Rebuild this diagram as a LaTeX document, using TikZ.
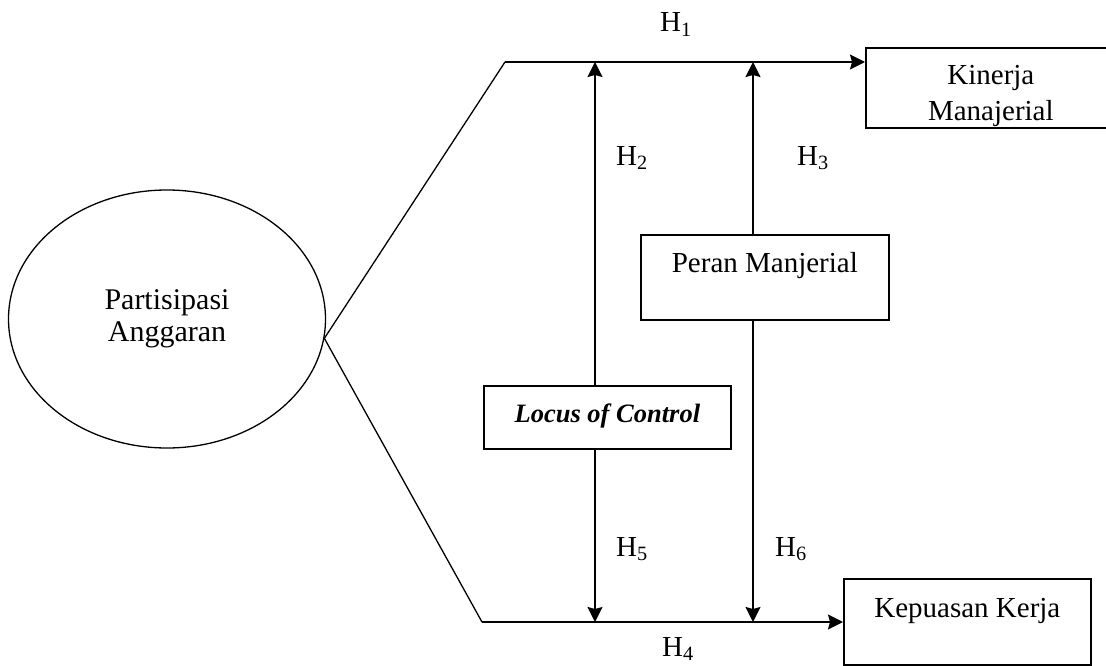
\documentclass[tikz,border=0pt]{standalone}
\usepackage{fontspec}
\setmainfont{Liberation Serif}
\usetikzlibrary{arrows.meta,shapes.geometric}
\begin{document}
\begin{tikzpicture}[x=1pt,y=-1pt,
  box/.style={draw,line width=1.7pt,inner sep=0pt,anchor=north west,align=center,
              font=\fontsize{29}{36}\selectfont},
  link/.style={line width=1.8pt,-{Stealth[length=15pt,width=15pt,inset=2pt]}},
  edge/.style={line width=1.3pt,line cap=round},
  hlabel/.style={anchor=base west,inner sep=0pt,font=\fontsize{29}{35}\selectfont}]
\useasboundingbox (0,0) rectangle (1106,666);

% independent variable
\node[draw,ellipse,line width=1.3pt,minimum width=317pt,minimum height=258pt,inner sep=0pt,
      align=center,font=\fontsize{30}{32}\selectfont] (pa) at (167,319) {Partisipasi\\Anggaran};

% dependent and moderating variables (baseline of the last line sits text height below the top)
\node[box,minimum width=250pt,text height=73pt,text depth=7pt] (kin) at (865,47) {Kinerja\\Manajerial};
\node[box,minimum width=248pt,text height=38pt,text depth=47pt] (per) at (640,234) {Peran Manjerial};
\node[box,minimum width=247pt,text height=37pt,text depth=26pt,
      font=\fontsize{26.5}{32}\selectfont\bfseries\itshape] (loc) at (483,385) {Locus of Control};
\node[box,minimum width=247pt,text height=39pt,text depth=47pt] (kep) at (843,578) {Kepuasan Kerja};

% bends and meeting points of the paths
\coordinate (tc) at (505,62);
\coordinate (bc) at (482,622);
\coordinate (t2) at (595,62);
\coordinate (t3) at (753,62);
\coordinate (b2) at (595,622);
\coordinate (b3) at (753,622);

% main paths
\draw[edge] (pa.-7.7) -- (tc);
\draw[edge] (pa.-7.7) -- (bc);
\draw[link] (tc) -- (tc -| kin.west);
\draw[link] (bc) -- (bc -| kep.west);

% moderating effects
\draw[link] (loc.north -| t2) -- (t2);
\draw[link] (loc.south -| b2) -- (b2);
\draw[link] (per.north -| t3) -- (t3);
\draw[link] (per.south -| b3) -- (b3);

% hypothesis labels
\node[hlabel] (h1) at (660,32) {H\textsubscript{1}};
\node[hlabel] (h2) at (616,165) {H\textsubscript{2}};
\node[hlabel] (h3) at (797,165) {H\textsubscript{3}};
\node[hlabel] (h5) at (616,556) {H\textsubscript{5}};
\node[hlabel] (h6) at (775,556) {H\textsubscript{6}};
\node[hlabel] (h4) at (662,656) {H\textsubscript{4}};
\end{tikzpicture}
\end{document}
